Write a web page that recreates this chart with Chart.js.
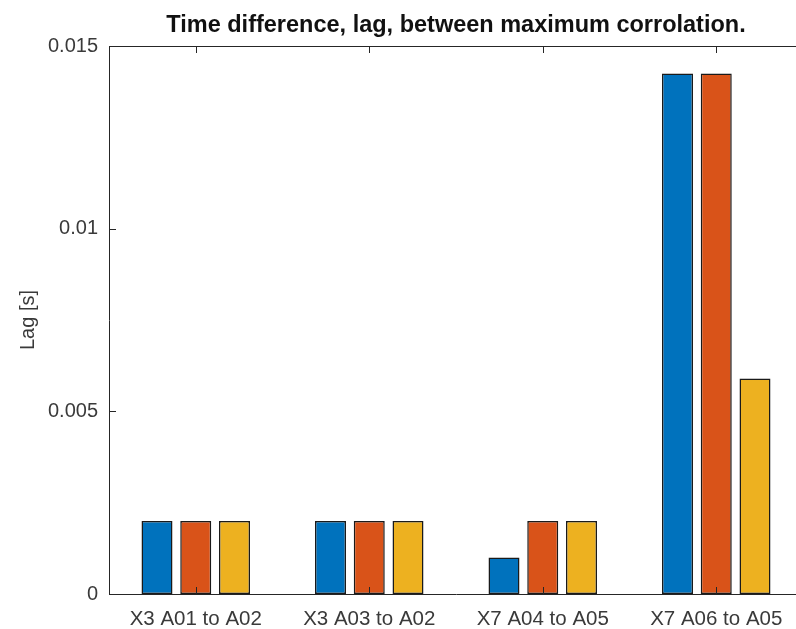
<!DOCTYPE html>
<html>
<head>
<meta charset="utf-8">
<script src="https://cdn.jsdelivr.net/npm/chart.js@4/dist/chart.umd.min.js"></script>
<style>
  html, body { margin: 0; padding: 0; overflow: hidden; background: #ffffff; }
  #wrap { width: 804px; height: 629px; }
</style>
</head>
<body>
<div id="wrap"><canvas id="c" width="804" height="629"></canvas></div>
<script>
const categories = ['X3 A01 to A02', 'X3 A03 to A02', 'X7 A04 to A05', 'X7 A06 to A05'];
const series1 = [0.002, 0.002, 0.001, 0.01425];
const series2 = [0.002, 0.002, 0.002, 0.01425];
const series3 = [0.002, 0.002, 0.002, 0.0059];
const yTickValues = [0, 0.005, 0.01, 0.015];
const yTickLabels = ['0', '0.005', '0.01', '0.015'];
const titleText = 'Time difference, lag, between maximum corrolation.';
const yTitle = 'Lag [s]';

const FONT = "'Liberation Sans', Arial, Helvetica, sans-serif";
const AXIS_COLOR = '#262626';
const TEXT_COLOR = '#3a3a3a';

const boxPlugin = {
  id: 'matlabBox',
  afterDatasetsDraw(chart) {
    const {ctx, chartArea: a, scales} = chart;
    const x = scales.x, y = scales.y;
    const tl = 7;
    ctx.save();
    ctx.strokeStyle = AXIS_COLOR;
    ctx.lineWidth = 1;
    ctx.beginPath();
    ctx.moveTo(a.left, Math.round(a.top) + 0.5);
    ctx.lineTo(a.right, Math.round(a.top) + 0.5);
    ctx.moveTo(Math.round(a.right) - 0.5, a.top);
    ctx.lineTo(Math.round(a.right) - 0.5, a.bottom);
    for (let i = 0; i < categories.length; i++) {
      const px = Math.round(x.getPixelForTick(i)) + 0.5;
      ctx.moveTo(px, a.bottom);
      ctx.lineTo(px, a.bottom - tl);
      ctx.moveTo(px, a.top);
      ctx.lineTo(px, a.top + tl);
    }
    for (const v of yTickValues) {
      const py = Math.round(y.getPixelForValue(v)) + 0.5;
      ctx.moveTo(a.left, py);
      ctx.lineTo(a.left + tl, py);
      ctx.moveTo(a.right, py);
      ctx.lineTo(a.right - tl, py);
    }
    ctx.stroke();
    ctx.restore();
  }
};

const ds = (label, data, color) => ({
  label, data,
  backgroundColor: color,
  borderColor: '#1a1a1a',
  borderWidth: 1.5,
  borderSkipped: false,
  categoryPercentage: 0.67,
  barPercentage: 0.8
});

new Chart(document.getElementById('c'), {
  type: 'bar',
  data: {
    labels: categories,
    datasets: [
      ds('Series 1', series1, '#0072BD'),
      ds('Series 2', series2, '#D95319'),
      ds('Series 3', series3, '#EDB120')
    ]
  },
  plugins: [boxPlugin],
  options: {
    responsive: false,
    animation: false,
    layout: { padding: { left: 0, right: 1, top: 0, bottom: 0 } },
    plugins: {
      legend: { display: false },
      tooltip: { enabled: false },
      title: {
        display: true,
        text: titleText,
        fullSize: false,
        color: '#111111',
        font: { family: FONT, size: 23.5, weight: 'bold' },
        padding: { top: 11, bottom: 6.8 }
      }
    },
    scales: {
      x: {
        offset: true,
        grid: { display: false, drawTicks: false },
        border: { display: true, color: AXIS_COLOR, width: 1 },
        ticks: {
          color: TEXT_COLOR,
          font: { family: FONT, size: 20.5 },
          padding: 13,
          maxRotation: 0,
          autoSkip: false
        },
        afterFit(s) { s.height = 35; }
      },
      y: {
        min: 0,
        max: 0.015,
        grid: { display: false, drawTicks: false },
        border: { display: true, color: AXIS_COLOR, width: 1 },
        afterBuildTicks(s) { s.ticks = yTickValues.map(v => ({ value: v })); },
        ticks: {
          color: TEXT_COLOR,
          font: { family: FONT, size: 20 },
          padding: 11,
          callback(v, i) { return yTickLabels[i]; }
        },
        title: {
          display: true,
          text: yTitle,
          color: TEXT_COLOR,
          font: { family: FONT, size: 20 },
          padding: { top: 16.5, bottom: 0 }
        },
        afterFit(s) { s.width = 109; }
      }
    }
  }
});
</script>
</body>
</html>
